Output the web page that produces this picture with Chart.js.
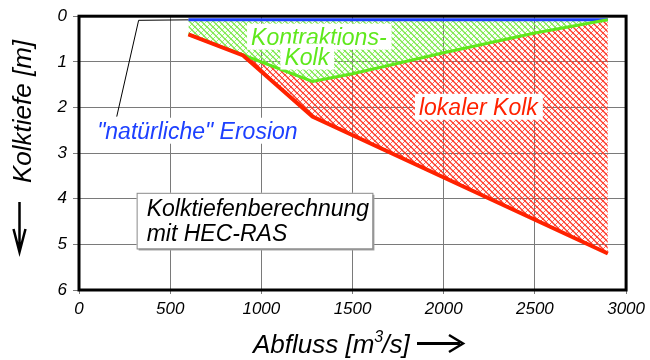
<!DOCTYPE html>
<html lang="de">
<head>
<meta charset="utf-8">
<title>Kolktiefenberechnung</title>
<script src="https://cdn.jsdelivr.net/npm/chart.js@4.4.1/dist/chart.umd.min.js"></script>
<style>
  html, body { margin: 0; padding: 0; background: #fff; }
</style>
</head>
<body>
<canvas id="kolk" width="650" height="360"></canvas>
<script>
// Abfluss [m3/s] gegen Kolktiefe [m]
const erosionQ = [600, 2900];
const erosionDepth = [0.08, 0.08];
const contractionQ = [600, 900, 1280, 1500, 2000, 2500, 2900];
const contractionDepth = [0.4, 0.85, 1.43, 1.26, 0.8, 0.37, 0.08];
const localQ = [600, 900, 1280, 2900];
const localDepth = [0.4, 0.86, 2.2, 5.2];
const xTicks = [0, 500, 1000, 1500, 2000, 2500, 3000];
const yTicks = [0, 1, 2, 3, 4, 5, 6];

const BLUE = "#1d40ff";
const GREEN = "#5fe81c";
const RED = "#ff2200";
const FONT = '"Liberation Sans", Arial, sans-serif';

const pts = (xs, ys) => xs.map((x, i) => ({ x, y: ys[i] }));

// small diagonal cross hatch used for the scour areas
function hatch(color) {
  const c = document.createElement("canvas");
  c.width = c.height = 6;
  const g = c.getContext("2d");
  g.strokeStyle = color;
  g.lineWidth = 1.3;
  g.beginPath();
  g.moveTo(-1, -1); g.lineTo(7, 7);
  g.stroke();
  g.lineWidth = 0.8;
  g.beginPath();
  g.moveTo(-1, 7); g.lineTo(7, -1);
  g.stroke();
  return g.createPattern(c, "repeat");
}

// labels placed in data units (Abfluss, Tiefe of the text baseline)
const notes = [
  { text: "Kontraktions-", q: 1315, d: 0.624, color: GREEN },
  { text: "Kolk", q: 1249, d: 1.06, color: GREEN },
  { text: "lokaler Kolk", q: 2190, d: 2.16, color: RED },
  { text: "\"natürliche\" Erosion", q: 649, d: 2.685, color: BLUE }
];
const leaderQ = [207, 327, 600];
const leaderDepth = [2.2, 0.09, 0.08];
const infoLines = ["Kolktiefenberechnung", "mit HEC-RAS"];

const decor = {
  id: "decor",
  afterDatasetsDraw(chart) {
    const { ctx, scales: { x, y } } = chart;
    ctx.save();

    // Hinweislinie zur Erosion
    ctx.strokeStyle = "#000";
    ctx.lineWidth = 1;
    ctx.beginPath();
    leaderQ.forEach((q, i) => {
      const px = x.getPixelForValue(q), py = y.getPixelForValue(leaderDepth[i]);
      i ? ctx.lineTo(px, py) : ctx.moveTo(px, py);
    });
    ctx.stroke();

    ctx.font = `italic 23px ${FONT}`;
    ctx.textBaseline = "alphabetic";
    notes.forEach(n => {
      const w = ctx.measureText(n.text).width;
      const cx = x.getPixelForValue(n.q), base = y.getPixelForValue(n.d);
      ctx.fillStyle = "#fff";
      ctx.fillRect(cx - w / 2 - 4, base - 21, w + 9, 26);
      ctx.fillStyle = n.color;
      ctx.fillText(n.text, cx - w / 2, base);
    });

    // Infokasten
    const bx = x.getPixelForValue(316), by = y.getPixelForValue(3.87);
    const bw = x.getPixelForValue(1609) - bx, bh = y.getPixelForValue(5.09) - by;
    ctx.fillStyle = "#a0a0a0";
    ctx.fillRect(bx + 2, by + 2, bw, bh);
    ctx.fillStyle = "#fff";
    ctx.fillRect(bx, by, bw, bh);
    ctx.strokeStyle = "#8a8a8a";
    ctx.strokeRect(bx + 0.5, by + 0.5, bw, bh);
    ctx.fillStyle = "#000";
    ctx.fillText(infoLines[0], x.getPixelForValue(371), y.getPixelForValue(4.37));
    ctx.fillText(infoLines[1], x.getPixelForValue(371), y.getPixelForValue(4.93));
    ctx.restore();
  },
  afterDraw(chart) {
    const { ctx, chartArea: a } = chart;
    ctx.save();
    ctx.strokeStyle = "#000";
    ctx.lineWidth = 3;
    ctx.strokeRect(a.left, a.top, a.right - a.left, a.bottom - a.top);

    // y title with arrow
    ctx.fillStyle = "#000";
    ctx.font = `italic 26px ${FONT}`;
    ctx.save();
    ctx.translate(31, 111.5);
    ctx.rotate(-Math.PI / 2);
    ctx.textAlign = "center";
    ctx.fillText("Kolktiefe [m]", 0, 0);
    ctx.restore();
    ctx.lineWidth = 2.5;
    ctx.beginPath();
    ctx.moveTo(19.5, 202); ctx.lineTo(19.5, 250);
    ctx.moveTo(13.5, 229); ctx.lineTo(19.5, 252); ctx.lineTo(25.5, 229);
    ctx.stroke();

    // x title with arrow
    let tx = 253;
    const base = 353;
    ctx.fillText("Abfluss [m", tx, base);
    tx += ctx.measureText("Abfluss [m").width;
    ctx.font = `italic 16px ${FONT}`;
    ctx.fillText("3", tx, base - 11);
    tx += ctx.measureText("3").width - 1;
    ctx.font = `italic 26px ${FONT}`;
    ctx.fillText("/s]", tx, base);
    ctx.lineWidth = 3;
    ctx.beginPath();
    ctx.moveTo(417, 343.5); ctx.lineTo(460, 343.5);
    ctx.stroke();
    ctx.lineWidth = 2.5;
    ctx.beginPath();
    ctx.moveTo(449, 335); ctx.lineTo(463, 343.5); ctx.lineTo(449, 352);
    ctx.stroke();
    ctx.restore();
  }
};

const tickFont = { family: FONT, size: 17, style: "italic" };
const gridStyle = { color: "#7a7a7a", lineWidth: 1, drawTicks: true };
const plain = v => String(v);

new Chart(document.getElementById("kolk"), {
  type: "line",
  data: {
    datasets: [
      {
        label: "natürliche Erosion",
        data: pts(erosionQ, erosionDepth),
        borderColor: BLUE,
        borderWidth: 3,
        fill: false,
        order: 2
      },
      {
        label: "Kontraktionskolk",
        data: pts(contractionQ, contractionDepth),
        borderColor: GREEN,
        borderWidth: 3,
        backgroundColor: hatch("#7ee84c"),
        fill: { target: 0 },
        order: 1
      },
      {
        label: "lokaler Kolk",
        data: pts(localQ, localDepth),
        borderColor: RED,
        borderWidth: 4,
        backgroundColor: hatch("#ff3b2b"),
        fill: { target: 1 },
        order: 0
      }
    ]
  },
  options: {
    responsive: false,
    animation: false,
    elements: { point: { radius: 0 }, line: { tension: 0 } },
    layout: { padding: { left: 0, right: 21, top: 14, bottom: 0 } },
    plugins: {
      legend: { display: false },
      tooltip: { enabled: false },
      filler: { drawTime: "beforeDatasetsDraw" }
    },
    scales: {
      x: {
        type: "linear",
        min: 0,
        max: 3000,
        afterBuildTicks: s => { s.ticks = xTicks.map(value => ({ value })); },
        afterFit: s => { s.height = 70; },
        ticks: { color: "#000", font: tickFont, padding: 5, maxRotation: 0, callback: plain },
        grid: { ...gridStyle, tickLength: 4 },
        border: { display: false }
      },
      y: {
        type: "linear",
        reverse: true,
        min: 0,
        max: 6,
        afterBuildTicks: s => { s.ticks = yTicks.map(value => ({ value })); },
        afterFit: s => { s.width = 79; },
        ticks: { color: "#000", font: tickFont, padding: 6, callback: plain },
        grid: { ...gridStyle, tickLength: 6 },
        border: { display: false }
      }
    }
  },
  plugins: [decor]
});
</script>
</body>
</html>
